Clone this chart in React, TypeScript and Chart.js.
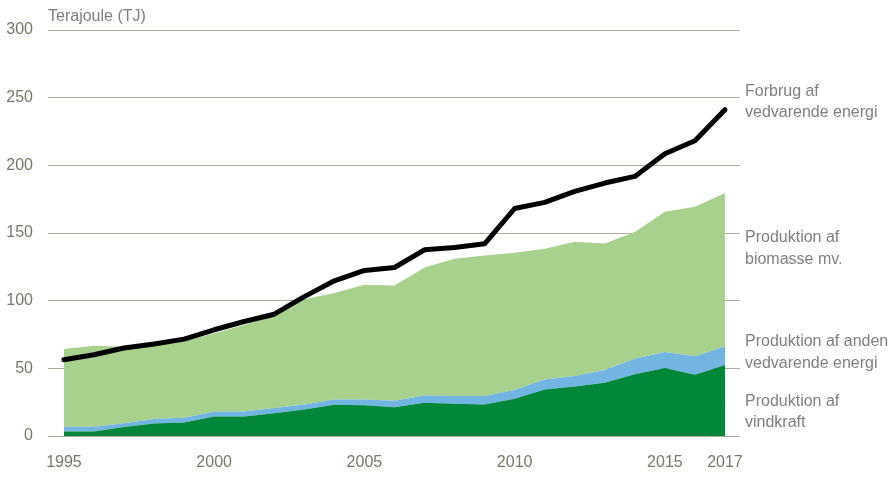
import React, { useEffect, useRef } from "react";
import { Chart, registerables } from "chart.js";

Chart.register(...registerables);

const years = [1995,1996,1997,1998,1999,2000,2001,2002,2003,2004,2005,2006,2007,2008,2009,2010,2011,2012,2013,2014,2015,2016,2017];
const vindkraft = [3.3,3.3,6.6,9.2,10,14.4,14.5,16.9,19.6,23,22.8,21.2,24.5,23.8,23.3,27.5,34.4,36.6,39.3,45.7,50.2,45.2,52.4];
const andenVedvarende = [3.5,3.5,2.9,3.3,3.5,3.5,3.6,3.7,3.7,4,4.2,4.8,5.5,5.8,6.3,6.4,7.4,7.7,9.4,11.3,11.8,13.8,13.8];
const biomasse = [57.4,59.9,56.5,54.5,56.5,58.1,63.9,68.4,77.7,78.6,84.7,85.2,94.5,101.4,103.8,101.5,96.6,99.2,93.6,93.7,103.7,110.4,113.3];
const forbrug = [56.3,60,65,68,71.6,78.5,84.6,90,103,114.7,122.3,124.5,137.6,139.3,142,168.1,172.6,180.7,186.9,191.8,208.6,218.2,241.1];
const xTickYears = [1995, 2000, 2005, 2010, 2015, 2017];
const yTicks = [0, 50, 100, 150, 200, 250, 300];

const unitLabel = "Terajoule (TJ)";
const sideLabels = [
  { lines: ["Forbrug af", "vedvarende energi"], at: [254.4, 238.9] },
  { lines: ["Produktion af", "biomasse mv."], at: [146.5, 130.2] },
  { lines: ["Produktion af anden", "vedvarende energi"], at: [69.6, 53.4] },
  { lines: ["Produktion af", "vindkraft"], at: [25.3, 9.8] },
];

const FONT = '"Liberation Sans", Arial, sans-serif';
const TEXT_GREY = "#7f7f7f";
const TICK_GREY = "#77776a";
const GRID = "#aeae9a";

const toPts = (arr: number[]) => arr.map((v, i) => ({ x: years[i], y: v }));

export default function App() {
  const ref = useRef<HTMLCanvasElement | null>(null);
  useEffect(() => {
    document.body.style.margin = "0";
    const canvas = ref.current!;
    const labelsPlugin = {
      id: "sideLabels",
      afterDraw(chart: any) {
        const ctx = chart.ctx;
        const y = chart.scales.y;
        const area = chart.chartArea;
        ctx.save();
        ctx.font = `16px ${FONT}`;
        ctx.fillStyle = TEXT_GREY;
        ctx.textBaseline = "middle";
        ctx.textAlign = "left";
        ctx.fillText(unitLabel, area.left, area.top - 13);
        sideLabels.forEach((l) => {
          l.lines.forEach((t, i) => {
            ctx.fillText(t, area.right + 5, y.getPixelForValue(l.at[i]));
          });
        });
        ctx.restore();
      },
    };
    const chart = new Chart(canvas, {
      type: "line",
      data: {
        datasets: [
          {
            label: "Forbrug af vedvarende energi",
            data: toPts(forbrug),
            borderColor: "#000000",
            borderWidth: 5,
            borderCapStyle: "round",
            borderJoinStyle: "round",
            pointRadius: 0,
            fill: false,
            stack: "line",
            order: 0,
            tension: 0,
          },
          {
            label: "Produktion af vindkraft",
            data: toPts(vindkraft),
            borderWidth: 0,
            backgroundColor: "#00873a",
            pointRadius: 0,
            fill: "origin",
            stack: "area",
            order: 1,
          },
          {
            label: "Produktion af anden vedvarende energi",
            data: toPts(andenVedvarende),
            borderWidth: 0,
            backgroundColor: "#72b4e2",
            pointRadius: 0,
            fill: "-1",
            stack: "area",
            order: 1,
          },
          {
            label: "Produktion af biomasse mv.",
            data: toPts(biomasse),
            borderWidth: 0,
            backgroundColor: "#a9d18e",
            pointRadius: 0,
            fill: "-1",
            stack: "area",
            order: 1,
          },
        ],
      },
      options: {
        animation: false,
        responsive: false,
        maintainAspectRatio: false,
        layout: { padding: { top: 30, right: 153, left: 0, bottom: 0 } },
        plugins: { legend: { display: false }, tooltip: { enabled: false } },
        scales: {
          x: {
            type: "linear",
            min: 1994.47,
            max: 2017.5,
            grid: { display: false, drawTicks: false },
            border: { display: false },
            ticks: {
              color: TICK_GREY,
              font: { family: FONT, size: 16 },
              padding: 17,
              autoSkip: false,
              maxRotation: 0,
              callback: (v: any) => String(v),
            },
            afterBuildTicks: (s: any) => {
              s.ticks = xTickYears.map((v) => ({ value: v }));
            },
            afterFit: (s: any) => {
              s.height = 47;
            },
          },
          y: {
            stacked: true,
            min: 0,
            max: 300,
            grid: { color: GRID, lineWidth: 1, drawTicks: false },
            border: { display: false },
            ticks: {
              color: TICK_GREY,
              font: { family: FONT, size: 16 },
              padding: 15,
              stepSize: 50,
            },
            afterBuildTicks: (s: any) => {
              s.ticks = yTicks.map((v) => ({ value: v }));
            },
            afterFit: (s: any) => {
              s.width = 48;
            },
          },
        },
      },
      plugins: [labelsPlugin],
    } as any);
    return () => chart.destroy();
  }, []);
  return (
    <div style={{ width: 893, height: 483 }}>
      <canvas ref={ref} width={893} height={483} style={{ display: "block" }} />
    </div>
  );
}
